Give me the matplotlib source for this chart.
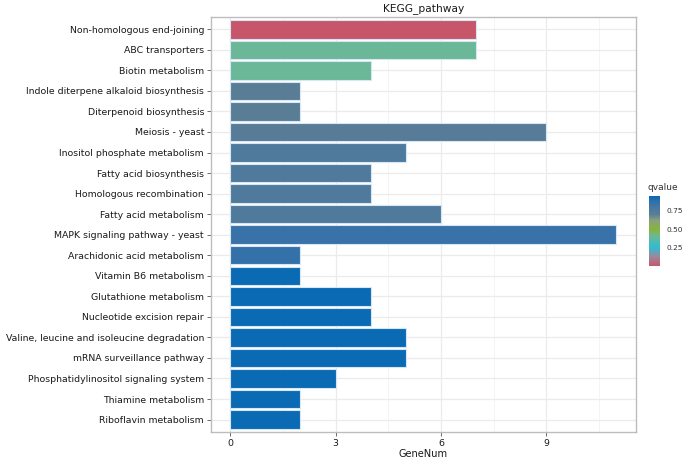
import matplotlib
matplotlib.use("Agg")
import matplotlib.pyplot as plt
from matplotlib.colors import LinearSegmentedColormap, Normalize
from matplotlib.cm import ScalarMappable

pathways = [
    "Non-homologous end-joining",
    "ABC transporters",
    "Biotin metabolism",
    "Indole diterpene alkaloid biosynthesis",
    "Diterpenoid biosynthesis",
    "Meiosis - yeast",
    "Inositol phosphate metabolism",
    "Fatty acid biosynthesis",
    "Homologous recombination",
    "Fatty acid metabolism",
    "MAPK signaling pathway - yeast",
    "Arachidonic acid metabolism",
    "Vitamin B6 metabolism",
    "Glutathione metabolism",
    "Nucleotide excision repair",
    "Valine, leucine and isoleucine degradation",
    "mRNA surveillance pathway",
    "Phosphatidylinositol signaling system",
    "Thiamine metabolism",
    "Riboflavin metabolism",
]
gene_num = [7, 7, 4, 2, 2, 9, 5, 4, 4, 6, 11, 2, 2, 4, 4, 5, 5, 3, 2, 2]
qvalue = [0.0, 0.40, 0.40, 0.70, 0.70, 0.71, 0.76, 0.76, 0.76, 0.76,
          0.85, 0.86, 0.95, 0.95, 0.95, 0.95, 0.95, 0.95, 0.95, 0.95]

stops = [
    (0.00 / 0.95, "#c8566b"),
    (0.13 / 0.95, "#9a8a9c"),
    (0.25 / 0.95, "#2fbdd3"),
    (0.40 / 0.95, "#6bb896"),
    (0.50 / 0.95, "#86b43a"),
    (0.62 / 0.95, "#8a9f80"),
    (0.70 / 0.95, "#5a7d96"),
    (0.76 / 0.95, "#4f7a9c"),
    (0.85 / 0.95, "#3a72a8"),
    (1.00, "#0a6ab4"),
]
cmap = LinearSegmentedColormap.from_list("qv", stops)
norm = Normalize(vmin=0, vmax=0.95)

fig = plt.figure(figsize=(6.85, 4.58), dpi=100)
ax = fig.add_axes([0.308, 0.057, 0.62, 0.906])

n = len(pathways)
ypos = list(range(n))
ax.barh(ypos, gene_num, height=0.9, color=cmap(norm(qvalue)),
        edgecolor="#d6e6f4", linewidth=0.8, zorder=3)

ax.set_ylim(n - 0.4, -0.6)
ax.set_xlim(-0.55, 11.55)
ax.set_yticks(ypos)
ax.set_yticklabels(pathways, fontsize=6.75, color="#1a1a1a")
ax.set_xticks([0, 3, 6, 9])
ax.set_xticks([1.5, 4.5, 7.5, 10.5], minor=True)
ax.tick_params(axis="x", labelsize=6.75, labelcolor="#1a1a1a", length=3,
               color="#555555", width=0.6, pad=2)
ax.tick_params(axis="x", which="minor", length=0)
ax.tick_params(axis="y", length=3, color="#555555", width=0.6, pad=2)
ax.grid(True, which="major", color="#ebebeb", linewidth=0.9, zorder=0)
ax.grid(True, which="minor", axis="x", color="#f3f3f3", linewidth=0.6, zorder=0)
for s in ax.spines.values():
    s.set_color("#bdbdbd")
    s.set_linewidth(1.0)
ax.set_xlabel("GeneNum", fontsize=7.1, color="#1a1a1a", labelpad=1)
ax.set_title("KEGG_pathway", fontsize=7.7, color="#1a1a1a", pad=4)

cax = fig.add_axes([649 / 685, 1 - 266 / 458, 11 / 685, 70 / 458])
cb = fig.colorbar(ScalarMappable(norm=norm, cmap=cmap), cax=cax)
cb.set_ticks([0.25, 0.5, 0.75])
cb.ax.tick_params(labelsize=5.3, length=2.5, color="white", labelcolor="#333333", pad=2)
cb.outline.set_visible(False)
cax.text(-0.1, 1.06, "qvalue", transform=cax.transAxes, fontsize=6.5,
         color="#333333", ha="left", va="bottom")

fig.savefig("out.png", dpi=100)
plt.close(fig)
